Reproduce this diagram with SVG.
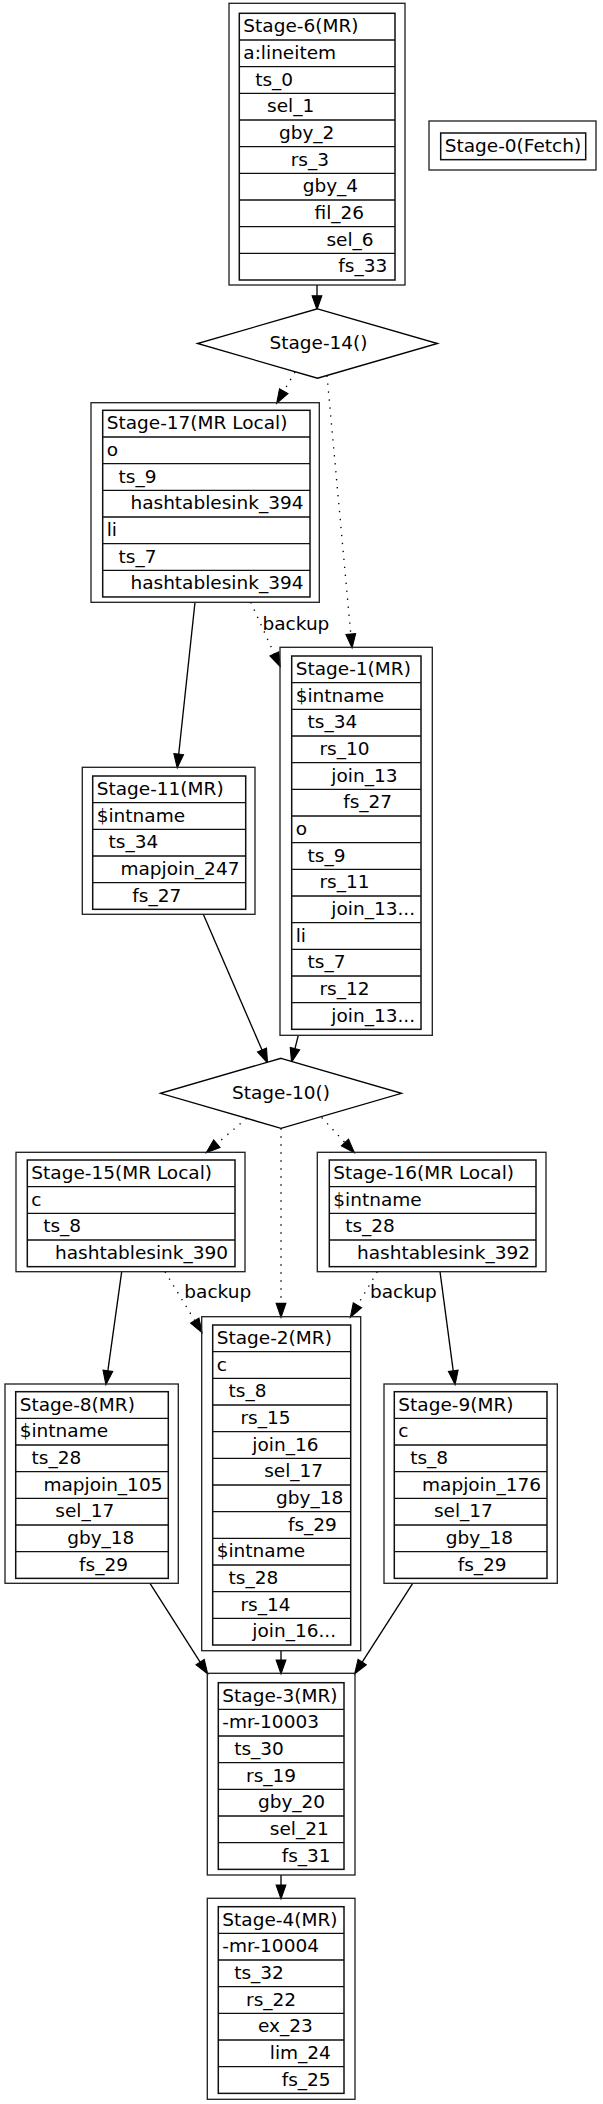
<svg xmlns="http://www.w3.org/2000/svg" width="603" height="2104" viewBox="0 0 603 2104">
<style>
text{font-family:"DejaVu Sans","Liberation Sans",sans-serif;font-size:18.5px;fill:#000}
.o{fill:none;stroke:#222;stroke-width:1.33}
.t{fill:none;stroke:#111;stroke-width:1.5}
.r{fill:none;stroke:#111;stroke-width:1.33}
.d{fill:#fff;stroke:#000;stroke-width:1.33}
.e{fill:none;stroke:#000;stroke-width:1.33;marker-end:url(#ah)}
.dot{stroke-dasharray:1.33 6.67}
.c{text-anchor:middle}
</style>
<defs>
<marker id="ah" markerWidth="14" markerHeight="10" refX="0" refY="4.67" orient="auto" markerUnits="userSpaceOnUse" viewBox="0 0 13.33 9.33" overflow="visible">
<path d="M0,0L13.33,4.67L0,9.33z" fill="#000" stroke="#000" stroke-width="1"/>
</marker>
</defs>
<rect x="0" y="0" width="603" height="2104" fill="#fff"/>

<g id="connectors">
<line class="e" x1="317" y1="285" x2="317" y2="295.67"/>
<line class="e dot" x1="295" y1="372" x2="283.74" y2="391.2"/>
<line class="e dot" x1="327" y1="375.5" x2="350.78" y2="634.03"/>
<line class="e" x1="195" y1="602.3" x2="178.72" y2="754.05"/>
<line class="e dot" x1="250.7" y1="602.3" x2="274.36" y2="653.92"/>
<text x="262.5" y="630">backup</text>
<line class="e" x1="203.3" y1="914.3" x2="262.01" y2="1050.07"/>
<line class="e" x1="298.3" y1="1035.3" x2="294.96" y2="1048.57"/>
<line class="e dot" x1="246.7" y1="1118.3" x2="216.86" y2="1143.67"/>
<line class="e dot" x1="281" y1="1128.3" x2="281" y2="1303.37"/>
<line class="e dot" x1="321.7" y1="1117.5" x2="344.93" y2="1142.53"/>
<line class="e" x1="121.7" y1="1271.7" x2="107.85" y2="1370.8"/>
<line class="e dot" x1="165" y1="1271.7" x2="194.77" y2="1320.61"/>
<text x="184.3" y="1298.3">backup</text>
<line class="e dot" x1="377.3" y1="1271.7" x2="357.48" y2="1305.22"/>
<text x="370" y="1298.3">backup</text>
<line class="e" x1="440" y1="1271.7" x2="453.24" y2="1370.79"/>
<line class="e" x1="150" y1="1583.3" x2="200.14" y2="1662.05"/>
<line class="e" x1="281" y1="1650.7" x2="281" y2="1659.97"/>
<line class="e" x1="412.7" y1="1583.3" x2="362.19" y2="1662.08"/>
<line class="e" x1="281" y1="1875" x2="281" y2="1884.97"/>
</g>

<g id="stage-6" transform="translate(239.3,13.3)">
<rect class="o" x="-10.3" y="-10" width="176" height="281.7"/>
<rect class="t" x="0" y="0" width="155.7" height="266.7"/>
<path class="r" d="M0,26.67H155.7M0,53.33H155.7M0,80H155.7M0,106.67H155.7M0,133.33H155.7M0,160H155.7M0,186.67H155.7M0,213.33H155.7M0,240H155.7"/>
<text x="4" y="19">Stage-6(MR)</text>
<text x="4" y="45.67">a:lineitem</text>
<text x="15.87" y="72.33">ts_0</text>
<text x="27.74" y="99">sel_1</text>
<text x="39.61" y="125.67">gby_2</text>
<text x="51.48" y="152.33">rs_3</text>
<text x="63.35" y="179">gby_4</text>
<text x="75.22" y="205.67">fil_26</text>
<text x="87.09" y="232.33">sel_6</text>
<text x="98.96" y="259">fs_33</text>
</g>

<g id="stage-0" transform="translate(440.7,133)">
<rect class="o" x="-11.7" y="-12" width="167" height="49"/>
<rect class="t" x="0" y="0" width="145" height="26.67"/>
<text x="4" y="19">Stage-0(Fetch)</text>
</g>

<g id="stage-14">
<polygon class="d" points="317.5,308.8 437.5,343.5 317.5,378.2 197.5,343.5"/>
<text class="c" x="318.5" y="349">Stage-14()</text>
</g>

<g id="stage-17" transform="translate(102.7,410.3)">
<rect class="o" x="-11.7" y="-7.6" width="228.3" height="199.6"/>
<rect class="t" x="0" y="0" width="207.3" height="186.67"/>
<path class="r" d="M0,26.67H207.3M0,53.33H207.3M0,80H207.3M0,106.67H207.3M0,133.33H207.3M0,160H207.3"/>
<text x="4" y="19">Stage-17(MR Local)</text>
<text x="4" y="45.67">o</text>
<text x="15.87" y="72.33">ts_9</text>
<text x="27.74" y="99">hashtablesink_394</text>
<text x="4" y="125.67">li</text>
<text x="15.87" y="152.33">ts_7</text>
<text x="27.74" y="179">hashtablesink_394</text>
</g>

<g id="stage-1" transform="translate(291.7,656)">
<rect class="o" x="-11.7" y="-8.7" width="152.3" height="388"/>
<rect class="t" x="0" y="0" width="129.3" height="373.33"/>
<path class="r" d="M0,26.67H129.3M0,53.33H129.3M0,80H129.3M0,106.67H129.3M0,133.33H129.3M0,160H129.3M0,186.67H129.3M0,213.33H129.3M0,240H129.3M0,266.67H129.3M0,293.33H129.3M0,320H129.3M0,346.67H129.3"/>
<text x="4" y="19">Stage-1(MR)</text>
<text x="4" y="45.67">$intname</text>
<text x="15.87" y="72.33">ts_34</text>
<text x="27.74" y="99">rs_10</text>
<text x="39.61" y="125.67">join_13</text>
<text x="51.48" y="152.33">fs_27</text>
<text x="4" y="179">o</text>
<text x="15.87" y="205.67">ts_9</text>
<text x="27.74" y="232.33">rs_11</text>
<text x="39.61" y="259">join_13...</text>
<text x="4" y="285.67">li</text>
<text x="15.87" y="312.33">ts_7</text>
<text x="27.74" y="339">rs_12</text>
<text x="39.61" y="365.67">join_13...</text>
</g>

<g id="stage-11" transform="translate(92.7,776)">
<rect class="o" x="-10.4" y="-8.7" width="172.7" height="147"/>
<rect class="t" x="0" y="0" width="153" height="133.33"/>
<path class="r" d="M0,26.67H153M0,53.33H153M0,80H153M0,106.67H153"/>
<text x="4" y="19">Stage-11(MR)</text>
<text x="4" y="45.67">$intname</text>
<text x="15.87" y="72.33">ts_34</text>
<text x="27.74" y="99">mapjoin_247</text>
<text x="39.61" y="125.67">fs_27</text>
</g>

<g id="stage-10">
<polygon class="d" points="281,1058.3 401.5,1093.3 281,1128.3 160.5,1093.3"/>
<text class="c" x="281" y="1098.5">Stage-10()</text>
</g>

<g id="stage-15" transform="translate(27.3,1160)">
<rect class="o" x="-11.3" y="-7.7" width="229" height="119.4"/>
<rect class="t" x="0" y="0" width="207.7" height="106.67"/>
<path class="r" d="M0,26.67H207.7M0,53.33H207.7M0,80H207.7"/>
<text x="4" y="19">Stage-15(MR Local)</text>
<text x="4" y="45.67">c</text>
<text x="15.87" y="72.33">ts_8</text>
<text x="27.74" y="99">hashtablesink_390</text>
</g>

<g id="stage-16" transform="translate(329.3,1160)">
<rect class="o" x="-12" y="-7.7" width="228.7" height="119.4"/>
<rect class="t" x="0" y="0" width="206.7" height="106.67"/>
<path class="r" d="M0,26.67H206.7M0,53.33H206.7M0,80H206.7"/>
<text x="4" y="19">Stage-16(MR Local)</text>
<text x="4" y="45.67">$intname</text>
<text x="15.87" y="72.33">ts_28</text>
<text x="27.74" y="99">hashtablesink_392</text>
</g>

<g id="stage-2" transform="translate(212.7,1325)">
<rect class="o" x="-11" y="-8.3" width="159" height="334"/>
<rect class="t" x="0" y="0" width="138" height="320"/>
<path class="r" d="M0,26.67H138M0,53.33H138M0,80H138M0,106.67H138M0,133.33H138M0,160H138M0,186.67H138M0,213.33H138M0,240H138M0,266.67H138M0,293.33H138"/>
<text x="4" y="19">Stage-2(MR)</text>
<text x="4" y="45.67">c</text>
<text x="15.87" y="72.33">ts_8</text>
<text x="27.74" y="99">rs_15</text>
<text x="39.61" y="125.67">join_16</text>
<text x="51.48" y="152.33">sel_17</text>
<text x="63.35" y="179">gby_18</text>
<text x="75.22" y="205.67">fs_29</text>
<text x="4" y="232.33">$intname</text>
<text x="15.87" y="259">ts_28</text>
<text x="27.74" y="285.67">rs_14</text>
<text x="39.61" y="312.33">join_16...</text>
</g>

<g id="stage-8" transform="translate(15.7,1391.7)">
<rect class="o" x="-10.7" y="-7.7" width="173.3" height="199.3"/>
<rect class="t" x="0" y="0" width="152.6" height="186.67"/>
<path class="r" d="M0,26.67H152.6M0,53.33H152.6M0,80H152.6M0,106.67H152.6M0,133.33H152.6M0,160H152.6"/>
<text x="4" y="19">Stage-8(MR)</text>
<text x="4" y="45.67">$intname</text>
<text x="15.87" y="72.33">ts_28</text>
<text x="27.74" y="99">mapjoin_105</text>
<text x="39.61" y="125.67">sel_17</text>
<text x="51.48" y="152.33">gby_18</text>
<text x="63.35" y="179">fs_29</text>
</g>

<g id="stage-9" transform="translate(394.3,1391.7)">
<rect class="o" x="-10.3" y="-7.7" width="173.3" height="199.3"/>
<rect class="t" x="0" y="0" width="152.7" height="186.67"/>
<path class="r" d="M0,26.67H152.7M0,53.33H152.7M0,80H152.7M0,106.67H152.7M0,133.33H152.7M0,160H152.7"/>
<text x="4" y="19">Stage-9(MR)</text>
<text x="4" y="45.67">c</text>
<text x="15.87" y="72.33">ts_8</text>
<text x="27.74" y="99">mapjoin_176</text>
<text x="39.61" y="125.67">sel_17</text>
<text x="51.48" y="152.33">gby_18</text>
<text x="63.35" y="179">fs_29</text>
</g>

<g id="stage-3" transform="translate(218.3,1682.7)">
<rect class="o" x="-11" y="-9.4" width="147.7" height="201.7"/>
<rect class="t" x="0" y="0" width="125.7" height="186.67"/>
<path class="r" d="M0,26.67H125.7M0,53.33H125.7M0,80H125.7M0,106.67H125.7M0,133.33H125.7M0,160H125.7"/>
<text x="4" y="19">Stage-3(MR)</text>
<text x="4" y="45.67">-mr-10003</text>
<text x="15.87" y="72.33">ts_30</text>
<text x="27.74" y="99">rs_19</text>
<text x="39.61" y="125.67">gby_20</text>
<text x="51.48" y="152.33">sel_21</text>
<text x="63.35" y="179">fs_31</text>
</g>

<g id="stage-4" transform="translate(218.3,1906.7)">
<rect class="o" x="-11" y="-8.4" width="147.7" height="201"/>
<rect class="t" x="0" y="0" width="125.7" height="186.67"/>
<path class="r" d="M0,26.67H125.7M0,53.33H125.7M0,80H125.7M0,106.67H125.7M0,133.33H125.7M0,160H125.7"/>
<text x="4" y="19">Stage-4(MR)</text>
<text x="4" y="45.67">-mr-10004</text>
<text x="15.87" y="72.33">ts_32</text>
<text x="27.74" y="99">rs_22</text>
<text x="39.61" y="125.67">ex_23</text>
<text x="51.48" y="152.33">lim_24</text>
<text x="63.35" y="179">fs_25</text>
</g>
</svg>
